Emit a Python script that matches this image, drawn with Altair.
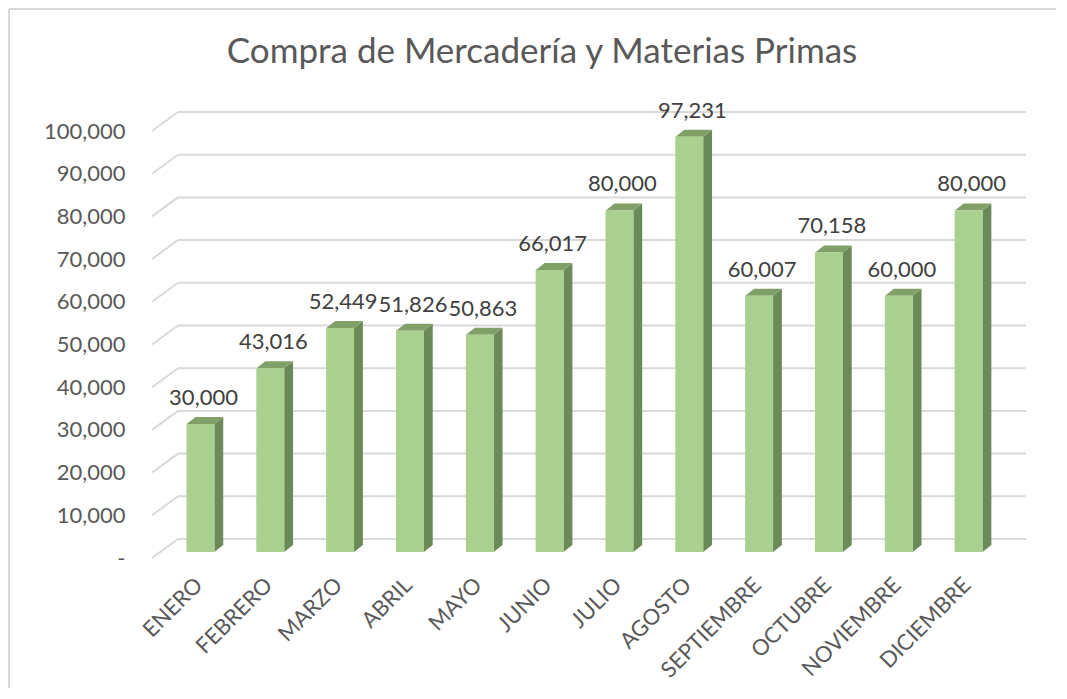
import json
import altair as alt
import pandas as pd

# ---------------- data ----------------
months = ["ENERO", "FEBRERO", "MARZO", "ABRIL", "MAYO", "JUNIO", "JULIO",
          "AGOSTO", "SEPTIEMBRE", "OCTUBRE", "NOVIEMBRE", "DICIEMBRE"]
values = [30000, 43016, 52449, 51826, 50863, 66017, 80000, 97231,
          60007, 70158, 60000, 80000]
y_ticks = list(range(0, 100001, 10000))
title_text = "Compra de Mercadería y Materias Primas"

# ---------------- style / geometry ----------------
W, H = 874, 427
X_DOMAIN = [-0.623, 11.75]
Y_DOMAIN = [0, 100000]
PX_X = W / (X_DOMAIN[1] - X_DOMAIN[0])
PX_Y = H / (Y_DOMAIN[1] - Y_DOMAIN[0])
BAR_PX = 28
BW = BAR_PX / PX_X          # bar width in data units
DX = 9 / PX_X               # depth (x) in data units
DY = 7 / PX_Y               # depth (y) in data units
BACK_DX, BACK_DY = 26, -19  # wall offset in px
FRONT_SHIFT = -6            # bars stand a little behind the floor front edge

FONT = "Lato"
TXT = "#595959"
FRONT = "#A9D08E"
SIDE = "#6B8A58"
TOP = "#80A067"
GRID = "#D9D9D9"

xs = alt.Scale(domain=X_DOMAIN, nice=False, zero=False)
ys = alt.Scale(domain=Y_DOMAIN, nice=False, zero=False)

bars = pd.DataFrame({
    "idx": list(range(len(months))),
    "month": months,
    "value": values,
    "base": [0] * len(months),
})
bars["label"] = [f"{v:,}" for v in values]

side_rows, top_rows = [], []
for i, v in enumerate(values):
    side_rows.append({"idx": i, "x": i + BW / 2, "y": v, "y2": 0})
    side_rows.append({"idx": i, "x": i + BW / 2 + DX, "y": v + DY, "y2": DY})
    top_rows.append({"idx": i, "x": i - BW / 2, "y": v, "y2": v})
    top_rows.append({"idx": i, "x": i - BW / 2 + DX, "y": v + DY, "y2": v})
    top_rows.append({"idx": i, "x": i + BW / 2, "y": v + DY, "y2": v})
    top_rows.append({"idx": i, "x": i + BW / 2 + DX, "y": v + DY, "y2": v + DY})
side_df = pd.DataFrame(side_rows)
top_df = pd.DataFrame(top_rows)
ticks_df = pd.DataFrame({"t": y_ticks})

label_expr = json.dumps(months) + "[datum.value]"

x_axis = alt.Axis(values=list(range(len(months))), labelExpr=label_expr, title=None,
                  grid=False, ticks=False, domain=False, labelAngle=-45,
                  labelAlign="right", labelBaseline="middle", labelPadding=23,
                  labelOffset=-2,
                  labelFont=FONT, labelFontSize=22, labelColor=TXT,
                  labelFlush=False, labelOverlap=False)
y_axis = alt.Axis(values=y_ticks,
                  labelExpr="datum.value == 0 ? '-' : format(datum.value, ',')",
                  title=None, grid=False, ticks=False, domain=False, labelPadding=27,
                  labelFont=FONT, labelFontSize=22, labelColor=TXT,
                  labelFlush=False, labelOverlap=False)


def X(field):
    return alt.X(field, scale=xs, axis=x_axis, title=None)


def Y(field):
    return alt.Y(field, scale=ys, axis=y_axis, title=None)


# back wall gridlines
grid = alt.Chart(ticks_df).mark_rule(color=GRID, strokeWidth=2, yOffset=BACK_DY).encode(
    x=alt.value(BACK_DX), x2=alt.value(W), y=Y("t:Q"))
# side wall diagonals
diag = alt.Chart(ticks_df).mark_rule(color=GRID, strokeWidth=2, y2Offset=BACK_DY).encode(
    x=alt.value(0), x2=alt.value(BACK_DX), y=Y("t:Q"), y2="t:Q")

side = alt.Chart(side_df).mark_area(color=SIDE, yOffset=FRONT_SHIFT, y2Offset=FRONT_SHIFT,
                                    interpolate="linear").encode(
    x=X("x:Q"), y=Y("y:Q"), y2="y2:Q", detail="idx:N")
top = alt.Chart(top_df).mark_area(color=TOP, yOffset=FRONT_SHIFT, y2Offset=FRONT_SHIFT,
                                  interpolate="linear").encode(
    x=X("x:Q"), y=Y("y:Q"), y2="y2:Q", detail="idx:N")
front = alt.Chart(bars).mark_bar(color=FRONT, width=BAR_PX, yOffset=FRONT_SHIFT,
                                 y2Offset=FRONT_SHIFT).encode(
    x=X("idx:Q"), y=Y("value:Q"), y2="base:Q")
labels = alt.Chart(bars).mark_text(font=FONT, fontSize=22, color="#404040",
                                   baseline="alphabetic", align="center",
                                   xOffset=3, yOffset=-25).encode(
    x=X("idx:Q"), y=Y("value:Q"), text="label:N")

title = alt.Chart(pd.DataFrame({"t": [title_text]})).mark_text(
    font=FONT, fontSize=35, color=TXT, align="center", baseline="alphabetic").encode(
    x=alt.value(390), y=alt.value(-68), text="t:N")

border_left = alt.Chart(pd.DataFrame({"a": [0]})).mark_rule(color=GRID, strokeWidth=2).encode(
    x=alt.value(-143), y=alt.value(-122), y2=alt.value(H + 140))
border_top = alt.Chart(pd.DataFrame({"a": [0]})).mark_rule(color=GRID, strokeWidth=2).encode(
    x=alt.value(-143), x2=alt.value(W + 40), y=alt.value(-122))

chart = alt.layer(border_left, border_top, grid, diag, side, top, front, labels, title).properties(
    width=W, height=H,
    padding={"left": 144, "top": 123, "right": 30, "bottom": 130},
    autosize=alt.AutoSizeParams(type="none"),
).configure(background="white").configure_view(stroke=None)

chart.save("out.html", embed_options={"renderer": "svg", "actions": False})
